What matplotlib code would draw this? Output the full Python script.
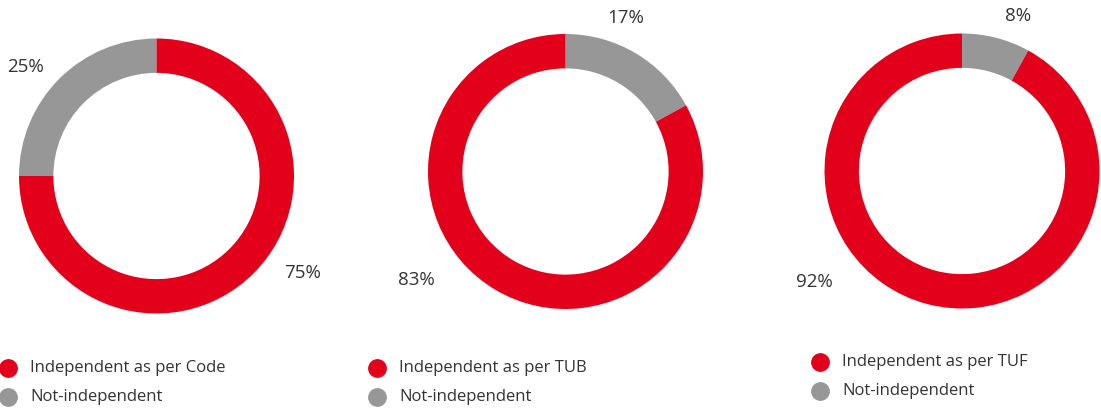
import matplotlib.pyplot as plt
from matplotlib.lines import Line2D

# dati
indipendenti = [75, 83, 92]
non_indipendenti = [25, 17, 8]
etichette_ind = ['Independent as per Code', 'Independent as per TUB', 'Independent as per TUF']
etichetta_non = 'Not-independent'

ROSSO = '#e2001a'
GRIGIO = '#979797'
TESTO = '#333333'

plt.rcParams['font.family'] = ['Open Sans', 'DejaVu Sans']

W, H = 1101, 417
fig = plt.figure(figsize=(W / 100, H / 100), dpi=100)

# layout in pixel: centro, raggio, angolo iniziale, posizione etichette, legenda
centri = [(156.5, 176), (565.5, 171.5), (962, 171)]
raggio = 137.5
start = [180, 90, 90]
pos_non = [(25, 67), (626, 18), (1018, 16)]
pos_ind = [(303, 273), (416, 280), (814, 282)]
legenda = [(8, 368), (377, 368), (820, 362)]

for i in range(3):
    cx, cy = centri[i]
    ax = fig.add_axes([(cx - raggio) / W, (H - cy - raggio) / H, 2 * raggio / W, 2 * raggio / H])
    ax.pie([non_indipendenti[i], indipendenti[i]], colors=[GRIGIO, ROSSO],
           startangle=start[i], counterclock=False, radius=1,
           wedgeprops=dict(width=0.25, linewidth=0))
    ax.set_xlim(-1, 1)
    ax.set_ylim(-1, 1)
    ax.axis('off')

    x, y = pos_non[i]
    fig.text(x / W, 1 - y / H, f'{non_indipendenti[i]}%', ha='center', va='center',
             fontsize=13.5, color=TESTO)
    x, y = pos_ind[i]
    fig.text(x / W, 1 - y / H, f'{indipendenti[i]}%', ha='center', va='center',
             fontsize=13.5, color=TESTO)

    # legenda manuale
    lx, ly = legenda[i]
    for j, (col, lab) in enumerate([(ROSSO, etichette_ind[i]), (GRIGIO, etichetta_non)]):
        yy = 1 - (ly + 29 * j) / H
        fig.add_artist(Line2D([lx / W], [yy], marker='o', markersize=12.5, color=col,
                              linestyle='', transform=fig.transFigure))
        fig.text((lx + 22) / W, yy, lab, ha='left', va='center', fontsize=12, color=TESTO)

plt.savefig('out.png', dpi=100)
plt.close()
